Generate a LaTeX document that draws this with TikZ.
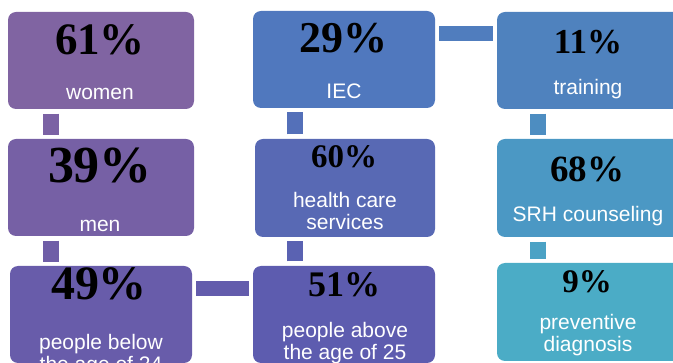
\documentclass[tikz,border=0pt]{standalone}
\usepackage{fontspec}
\setmainfont{Liberation Serif}
\newfontfamily\labfont{Liberation Sans}
\definecolor{cA}{RGB}{128,100,162}
\definecolor{cB}{RGB}{118,96,165}
\definecolor{cC}{RGB}{104,92,170}
\definecolor{cD}{RGB}{93,92,175}
\definecolor{cE}{RGB}{88,105,180}
\definecolor{cF}{RGB}{80,120,190}
\definecolor{cG}{RGB}{79,130,190}
\definecolor{cH}{RGB}{75,152,196}
\definecolor{cI}{RGB}{75,172,198}
\definecolor{k1}{RGB}{123,98,164}
\definecolor{k2}{RGB}{111,94,167}
\definecolor{k3}{RGB}{99,92,172}
\definecolor{k4}{RGB}{90,98,178}
\definecolor{k5}{RGB}{84,112,185}
\definecolor{k6}{RGB}{80,125,190}
\definecolor{k7}{RGB}{77,141,193}
\definecolor{k8}{RGB}{75,162,197}
\tikzset{
  card/.style={rectangle, rounded corners=8pt, inner sep=0pt, draw=none},
  pct/.style={anchor=base, inner sep=0pt, text=black, font=\bfseries\fontsize{#1}{#1}\selectfont},
  lab/.style={anchor=base, inner sep=0pt, text=white, align=center, font=\labfont\fontsize{21}{22}\selectfont},
  vbar/.style={line width=16pt, line cap=butt, draw=#1, shorten <=4.5pt, shorten >=4pt},
  hbar/.style={line width=15pt, line cap=butt, draw=#1, shorten <=4pt, shorten >=3.5pt}
}
\begin{document}
\begin{tikzpicture}[x=1pt,y=-1pt]
\useasboundingbox (0,0) rectangle (673,363);
\clip (0,0) rectangle (673,363);
% boxes
\node[card, fill=cA, minimum width=186pt, minimum height=97pt] (w) at (101,60.5) {};
\node[card, fill=cB, minimum width=186pt, minimum height=97pt] (m) at (101,187.5) {};
\node[card, fill=cC, minimum width=182pt, minimum height=97pt] (b) at (101,314.5) {};
\node[card, fill=cF, minimum width=182pt, minimum height=97pt] (i) at (344,59.5) {};
\node[card, fill=cE, minimum width=180pt, minimum height=98pt] (h) at (345,188) {};
\node[card, fill=cD, minimum width=182pt, minimum height=97pt] (a) at (344,314.5) {};
\node[card, fill=cG, minimum width=184pt, minimum height=97pt] (t) at (589,60.5) {};
\node[card, fill=cH, minimum width=184pt, minimum height=98pt] (s) at (589,188) {};
\node[card, fill=cI, minimum width=184pt, minimum height=98pt] (p) at (589,312) {};
% connectors
\draw[vbar=k1] ([xshift=43pt]w.south west) -- ([xshift=43pt]m.north west);
\draw[vbar=k2] ([xshift=43pt]m.south west) -- ([xshift=41pt]b.north west);
\draw[hbar=k3] ([yshift=-22.5pt]b.north east) -- ([yshift=-22.5pt]a.north west);
\draw[vbar=k4] ([xshift=42pt]a.north west) -- ([xshift=40pt]h.south west);
\draw[vbar=k5] ([xshift=40pt]h.north west) -- ([xshift=42pt]i.south west);
\draw[hbar=k6] ([yshift=-23pt]i.north east) -- ([yshift=-23pt]i.north east -| t.west);
\draw[vbar=k7] ([xshift=41pt]t.south west) -- ([xshift=41pt]s.north west);
\draw[vbar=k8] ([xshift=41pt]s.south west) -- ([xshift=41pt]p.north west);
% texts
\node[pct=45] (wp) at (100,55) {61\%};
\node[lab] (wl) at (100,100) {women};
\node[pct=52] (mp) at (100,183) {39\%};
\node[lab] (ml) at (100,232) {men};
\node[pct=48] (bp) at (99,300) {49\%};
\node[lab] (bl) at (101,372) {people below\\the age of 24};
\node[pct=44] (ip) at (343,53) {29\%};
\node[lab] (il) at (344,99) {IEC};
\node[pct=33] (hp) at (344,168) {60\%};
\node[lab] (hl) at (345,230) {health care\\services};
\node[pct=36] (ap) at (344,297) {51\%};
\node[lab] (al) at (345,360) {people above\\the age of 25};
\node[pct=35] (tp) at (588,54) {11\%};
\node[lab] (tl) at (588,95) {training};
\node[pct=37] (sp) at (587,182) {68\%};
\node[lab] (sl) at (588,222) {SRH counseling};
\node[pct=33] (pp) at (587,293) {9\%};
\node[lab] (pl) at (588,352) {preventive\\diagnosis};
\end{tikzpicture}
\end{document}
